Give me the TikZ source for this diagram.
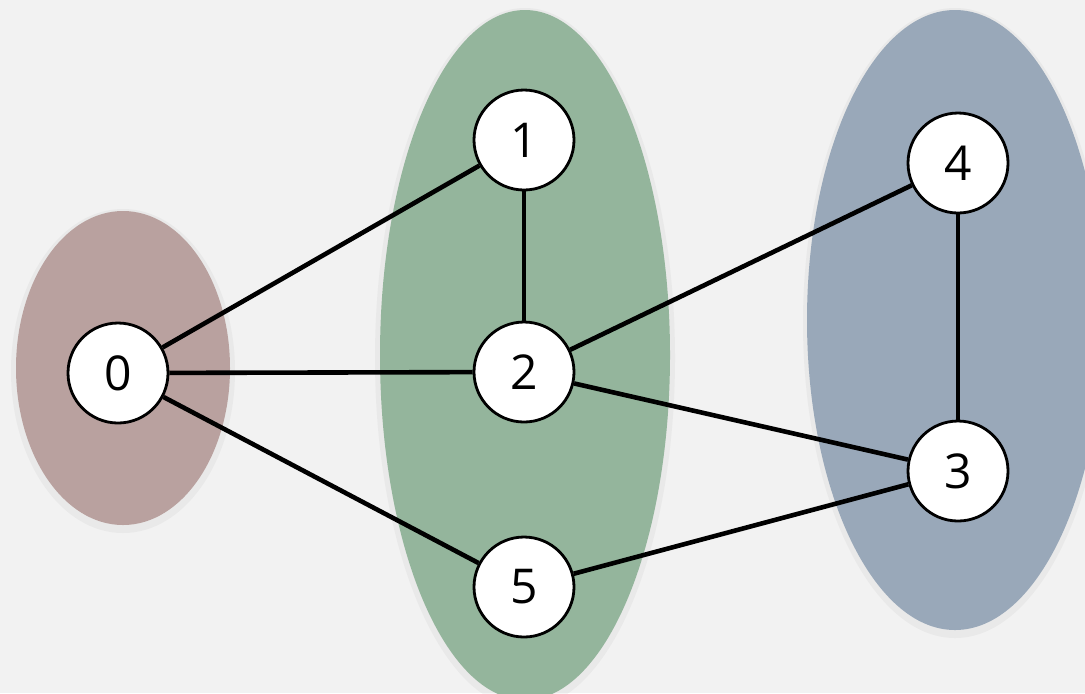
\documentclass[tikz,border=0pt]{standalone}
\usepackage{fontspec}
\setmainfont{Open Sans}
\usetikzlibrary{positioning}
\definecolor{bgray}{HTML}{F2F2F2}
\definecolor{rosegrp}{HTML}{B9A19F}
\definecolor{greengrp}{HTML}{94B59C}
\definecolor{bluegrp}{HTML}{99A8B9}

\begin{document}
\begin{tikzpicture}[
  x=0.5pt, y=-0.5pt,
  vert/.style={circle, draw=black, line width=1.4pt, fill=white,
    minimum size=50pt, inner sep=0pt, font=\fontsize{24}{26}\selectfont},
  grp/.style={draw=none},
  edge/.style={line width=2.3pt, black}
]
  \fill[bgray] (0,0) rectangle (1085,693);
  \useasboundingbox (0,0) rectangle (1085,693);
  % components
  \fill[grp, gray, opacity=0.08] (123,371) ellipse [x radius=112, y radius=162];
  \fill[grp, gray, opacity=0.08] (525,358) ellipse [x radius=150, y radius=350];
  \fill[grp, gray, opacity=0.08] (955,323) ellipse [x radius=152, y radius=315];
  \fill[grp, rosegrp] (123,368) ellipse [x radius=107, y radius=157];
  \fill[grp, greengrp] (525,355) ellipse [x radius=145, y radius=345];
  \fill[grp, bluegrp] (955,320) ellipse [x radius=148, y radius=310];
  % vertices
  \node[vert] (v0) at (118,373) {0};
  \node[vert] (v1) at (524,140) {1};
  \node[vert] (v2) at (524,372) {2};
  \node[vert] (v5) at (524,587) {5};
  \node[vert] (v4) at (958,163) {4};
  \node[vert] (v3) at (958,471) {3};
  % edges
  \draw[edge] (v0) -- (v1);
  \draw[edge] (v0) -- (v2);
  \draw[edge] (v0) -- (v5);
  \draw[edge] (v1) -- (v2);
  \draw[edge] (v2) -- (v4);
  \draw[edge] (v2) -- (v3);
  \draw[edge] (v5) -- (v3);
  \draw[edge] (v4) -- (v3);
\end{tikzpicture}
\end{document}
